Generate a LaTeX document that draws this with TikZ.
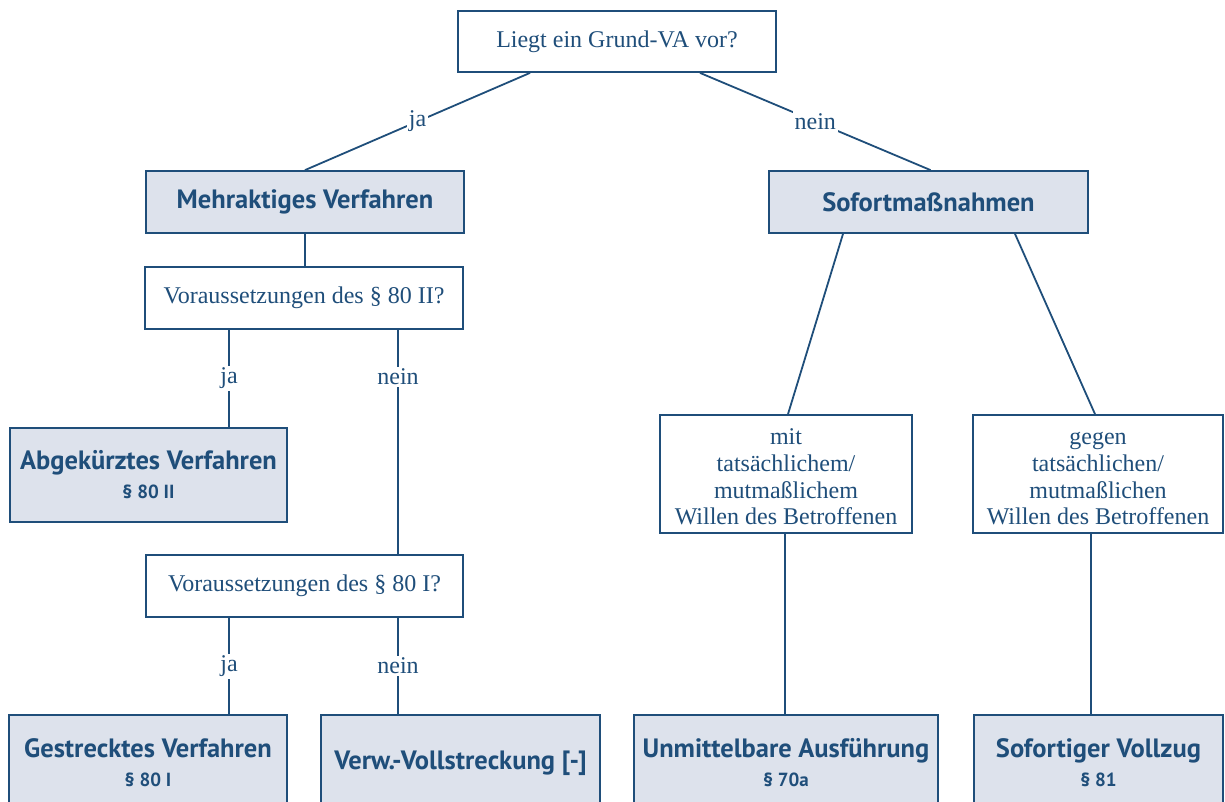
\documentclass[tikz,border=0pt]{standalone}
\usepackage{fontspec}
\setmainfont{Liberation Serif}
\newfontfamily\dinfont{PT Sans}
\definecolor{lineblue}{HTML}{1F4E7A}
\definecolor{boxfill}{HTML}{DDE2EC}
\newcommand{\serift}{\fontsize{24}{26.7}\selectfont}
\newcommand{\bigt}{\dinfont\bfseries\fontsize{26.5}{30}\selectfont}
\newcommand{\smallt}{\dinfont\bfseries\fontsize{19}{22}\selectfont}
\newcommand{\topstrut}{\rule{0pt}{22pt}}
\begin{document}
\begin{tikzpicture}[x=1pt,y=-1pt,
  qbox/.style={draw=lineblue, line width=1.8pt, fill=white, text=lineblue, inner sep=0pt, align=center, font=\serift},
  bbox/.style={draw=lineblue, line width=1.8pt, fill=boxfill, text=lineblue, inner sep=0pt, align=center, font=\bigt},
  conn/.style={draw=lineblue, line width=1.8pt},
  lab/.style={fill=white, text=lineblue, font=\serift, inner sep=2pt}]
\useasboundingbox (0,0) rectangle (1225,802);
\clip (0,0) rectangle (1225,802);
% nodes
\node[qbox, minimum width=318pt, minimum height=61pt] (top) at (617,41.5) {Liegt ein Grund-VA vor?};
\node[bbox, minimum width=318pt, minimum height=62pt] (mehr) at (305,202) {Mehraktiges Verfahren};
\node[bbox, minimum width=319pt, minimum height=62pt] (sofort) at (928.5,202) {Sofortmaßnahmen};
\node[qbox, minimum width=318pt, minimum height=62pt] (vor2) at (304,298) {Voraussetzungen des § 80 II?};
\node[bbox, minimum width=277pt, minimum height=94pt] (abg) at (148.5,475) {Abgekürztes Verfahren\\[-1pt]{\smallt § 80 II}};
\node[qbox, minimum width=317pt, minimum height=62pt] (vor1) at (304.5,586) {Voraussetzungen des § 80 I?};
\node[bbox, minimum width=278pt, minimum height=96pt] (gest) at (148,763) {Gestrecktes Verfahren\\[-1pt]{\smallt § 80 I}};
\node[bbox, minimum width=279pt, minimum height=96pt] (verw) at (460.5,763) {Verw.-Vollstreckung [-]};
\node[qbox, minimum width=252pt, minimum height=118pt] (mit) at (786,474) {\topstrut mit\\tatsächlichem/\\mutmaßlichem\\Willen des Betroffenen};
\node[qbox, minimum width=250pt, minimum height=118pt] (gegen) at (1098,474) {\topstrut gegen\\tatsächlichen/\\mutmaßlichen\\Willen des Betroffenen};
\node[bbox, minimum width=304pt, minimum height=96pt] (unm) at (786,763) {Unmittelbare Ausführung\\[-1pt]{\smallt § 70a}};
\node[bbox, minimum width=249pt, minimum height=96pt] (sofv) at (1098.5,763) {Sofortiger Vollzug\\[-1pt]{\smallt § 81}};
% connector anchors
\coordinate (tja) at ([xshift=-87pt]top.south);
\coordinate (tnein) at ([xshift=83pt]top.south);
\coordinate (v2ja) at ([xshift=-75pt]vor2.south);
\coordinate (v2nein) at ([xshift=94pt]vor2.south);
\coordinate (v1ja) at ([xshift=-75.5pt]vor1.south);
\coordinate (v1nein) at ([xshift=93.5pt]vor1.south);
\coordinate (sl) at ([xshift=-85.5pt]sofort.south);
\coordinate (sr) at ([xshift=86.5pt]sofort.south);
\coordinate (mitin) at ([xshift=2pt]mit.north);
\coordinate (gegenin) at ([xshift=-3pt]gegen.north);
\coordinate (mitout) at ([xshift=-1pt]mit.south);
\coordinate (gegenout) at ([xshift=-7pt]gegen.south);
% connectors
\draw[conn] (tja) -- node[lab]{ja} (mehr.north);
\draw[conn] (tnein) -- node[lab]{nein} ([xshift=2pt]sofort.north);
\draw[conn] (mehr.south) -- (vor2.north -| mehr.south);
\draw[conn] (v2ja) -- node[lab]{ja} (v2ja |- abg.north);
\draw[conn] (v2nein) -- node[lab, pos=0.21]{nein} (v2nein |- vor1.north);
\draw[conn] (v1ja) -- node[lab]{ja} (v1ja |- gest.north);
\draw[conn] (v1nein) -- node[lab]{nein} (v1nein |- verw.north);
\draw[conn] (sl) -- (mitin);
\draw[conn] (sr) -- (gegenin);
\draw[conn] (mitout) -- (mitout |- unm.north);
\draw[conn] (gegenout) -- (gegenout |- sofv.north);
\end{tikzpicture}
\end{document}
